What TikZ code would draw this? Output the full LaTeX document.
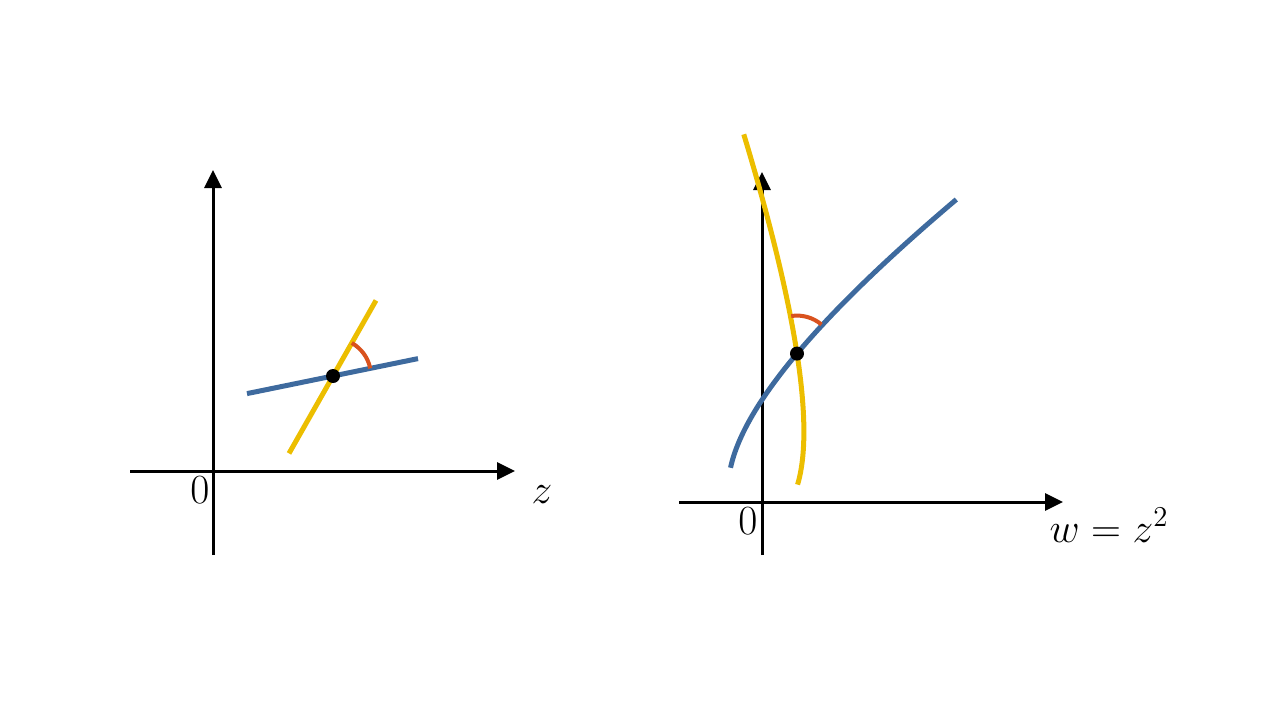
\documentclass[tikz,border=0pt]{standalone}
\usetikzlibrary{arrows.meta}
\definecolor{cblue}{RGB}{62,106,158}
\definecolor{cyellow}{RGB}{236,190,0}
\definecolor{cred}{RGB}{217,82,30}
\begin{document}
\begin{tikzpicture}[x=0.5pt,y=0.5pt,
 axis/.style={line width=1.5pt,-{Triangle[length=9pt,width=8.5pt]}},
 bluecurve/.style={cblue,line width=2.5pt},
 yellowcurve/.style={cyellow,line width=2.5pt},
 anglearc/.style={cred,line width=2pt},
 dot/.style={circle,fill=black,inner sep=0pt,minimum size=7pt},
 lbl/.style={font=\fontsize{21}{24}\selectfont,anchor=base}]
\useasboundingbox (0,0) rectangle (1280,720);
% left axes
\coordinate (xl0) at (130,249);
\coordinate (xl1) at (515,249);
\coordinate (yl0) at (213,165);
\coordinate (yl1) at (213,550);
\draw[axis] (xl0) -- (xl1);
\draw[axis] (yl0) -- (yl1);
% left curves
\begin{scope}[shift={(213,249)},x=50pt,y=50pt]
 \coordinate (b0) at (0.34,0.774);
 \coordinate (b1) at (2.05,1.124);
 \coordinate (y0) at (0.76,0.176);
 \coordinate (y1) at (1.63,1.706);
 \draw[bluecurve] (b0) -- (b1);
 \draw[yellowcurve] (y0) -- (y1);
 \draw[anglearc] ([shift={(11.57:0.38)}]1.2,0.95) arc[start angle=11.57,end angle=60.37,radius=0.38];
 \node[dot] (p1) at (1.2,0.95) {};
\end{scope}
% right axes
\coordinate (xr0) at (679,218);
\coordinate (xr1) at (1063,218);
\coordinate (yr0) at (762,165);
\coordinate (yr1) at (762,548);
\draw[axis] (xr0) -- (xr1);
\draw[axis] (yr0) -- (yr1);
\begin{scope}[shift={(762,218)},x=32.55pt,y=32.55pt]
 \draw[bluecurve] plot[domain=-0.503:0.505,samples=60,variable=\t]
  ({(1.2+1.71*\t)*(1.2+1.71*\t)-(0.95+0.35*\t)*(0.95+0.35*\t)},{2*(1.2+1.71*\t)*(0.95+0.35*\t)});
 \draw[yellowcurve] plot[domain=-0.506:0.505,samples=60,variable=\t]
  ({(1.2+0.87*\t)*(1.2+0.87*\t)-(0.95+1.53*\t)*(0.95+1.53*\t)},{2*(1.2+0.87*\t)*(0.95+1.53*\t)});
 \draw[anglearc] ([shift={(49.94:0.5837)}]0.5375,2.28) arc[start angle=49.94,end angle=98.74,radius=0.5837];
 \node[dot] (p2) at (0.5375,2.28) {};
\end{scope}
% labels
\node[lbl] (zero1) at (200,217) {$0$};
\node[lbl] (zlab) at (542,217) {$z$};
\node[lbl] (zero2) at (748,186) {$0$};
\node[lbl] (wlab) at (1109,178) {$w=z^2$};
\end{tikzpicture}
\end{document}
